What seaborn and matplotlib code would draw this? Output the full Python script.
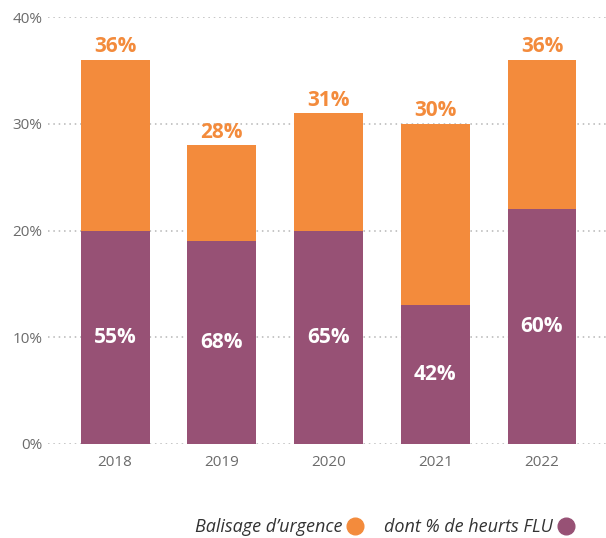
import matplotlib.pyplot as plt
import seaborn as sns
import pandas as pd

years = ["2018", "2019", "2020", "2021", "2022"]
balisage_total = [36, 28, 31, 30, 36]      # Balisage d'urgence (% total)
heurts_flu = [20, 19, 20, 13, 22]          # part purple of the bar
heurts_share = ["55%", "68%", "65%", "42%", "60%"]

ORANGE = "#F38B3C"
PURPLE = "#975175"
GREY = "#6b6b6b"

df = pd.DataFrame({"year": years, "total": balisage_total, "flu": heurts_flu})

sns.set_theme(style="white")
plt.rcParams["font.family"] = ["Open Sans", "DejaVu Sans"]

fig = plt.figure(figsize=(6.06, 5.38), dpi=100)
ax = fig.add_axes([0.079, 0.175, 0.921, 0.793])

sns.barplot(data=df, x="year", y="total", color=ORANGE, saturation=1,
            width=0.645, linewidth=0, ax=ax, zorder=2)
sns.barplot(data=df, x="year", y="flu", color=PURPLE, saturation=1,
            width=0.645, linewidth=0, ax=ax, zorder=3)

for i, (t, f, s) in enumerate(zip(balisage_total, heurts_flu, heurts_share)):
    ax.text(i, t + 0.25, f"{t}%", ha="center", va="bottom", color=ORANGE,
            fontsize=15, fontweight="bold", zorder=4)
    ax.text(i, f / 2, s, ha="center", va="center", color="white",
            fontsize=15, fontweight="bold", zorder=4)

ax.set_ylim(0, 40)
ax.set_xlim(-0.63, 4.6)
ax.set_yticks([0, 10, 20, 30, 40])
ax.set_yticklabels([f"{v}%" for v in range(0, 41, 10)])
for y in range(0, 41, 10):
    ax.axhline(y, color="#b5b5b5", linestyle=(0, (1, 2.5)), linewidth=1.1, zorder=1)
ax.set_xlabel("")
ax.set_ylabel("")
ax.tick_params(axis="both", length=0, labelsize=11, labelcolor=GREY)
ax.tick_params(axis="y", pad=4)
ax.tick_params(axis="x", pad=8)
for sp in ax.spines.values():
    sp.set_visible(False)

handles = [
    plt.Line2D([], [], marker="o", linestyle="", markersize=12, color=ORANGE),
    plt.Line2D([], [], marker="o", linestyle="", markersize=12, color=PURPLE),
]
leg = fig.legend(handles, ["Balisage d\u2019urgence", "dont % de heurts FLU"],
                 loc="center right", bbox_to_anchor=(0.978, 0.02), ncol=2,
                 frameon=False, markerfirst=False, handletextpad=0.1,
                 handlelength=1.2, columnspacing=1.0,
                 prop={"style": "italic", "size": 13})
for txt in leg.get_texts():
    txt.set_color("#333333")

fig.savefig("out.png", dpi=100)
